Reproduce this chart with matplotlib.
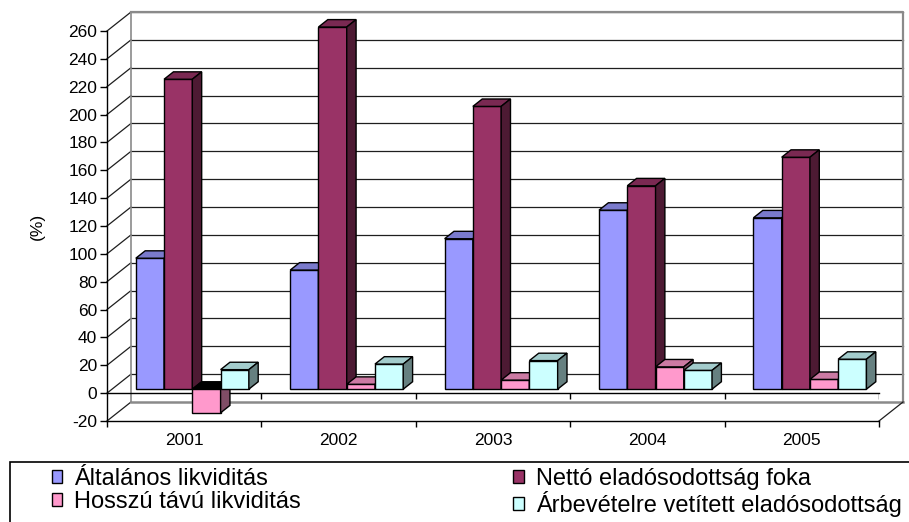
import numpy as np
import matplotlib
matplotlib.use('Agg')
import matplotlib.pyplot as plt
from matplotlib.patches import Polygon, Rectangle, Patch
from matplotlib.colors import to_rgb

plt.rcParams['font.family'] = ['Liberation Sans', 'DejaVu Sans']
plt.rcParams['axes.unicode_minus'] = False

# --- data ---
years = ['2001', '2002', '2003', '2004', '2005']
series_names = ['Általános likviditás', 'Nettó eladósodottság foka',
                'Hosszú távú likviditás', 'Árbevételre vetített eladósodottság']
altalanos = [94, 85.5, 108, 128.5, 123]
netto = [222.5, 260, 203, 146, 166.5]
hosszu = [-17, 3.5, 6.5, 16, 7]
arbevetel = [14, 18, 20.5, 13.5, 21.5]
colors = ['#9999FF', '#993366', '#FF99CC', '#CCFFFF']
y_ticks = list(range(-20, 261, 20))

series = [altalanos, netto, hosszu, arbevetel]

# --- layout in pixels ---
W, H = 909, 522
X0, X1 = 107, 879          # front x-extent of plot
Y_BOT, Y_TOP = 421, 31     # pixel rows of -20 and 260
fig = plt.figure(figsize=(W / 100, H / 100), dpi=100)
ax = fig.add_axes([X0 / W, (H - Y_BOT) / H, (X1 - X0) / W, (Y_BOT - Y_TOP) / H])
ymin, ymax = y_ticks[0], y_ticks[-1]
ax.set_xlim(0, len(years))
ax.set_ylim(ymin, ymax)

px_x = (X1 - X0) / len(years)
px_y = (Y_BOT - Y_TOP) / (ymax - ymin)
DX = 24 / px_x             # full depth offset (oblique projection)
DY = 19 / px_y
F0, F1 = 0.21, 0.60        # bar front / back depth
BAR_W = 0.183
GROUP_OFF = 0.154
n = len(years)

def shade(c, f):
    r, g, b = to_rgb(c)
    return (r * f, g * f, b * f)

# walls & floor
grid_col = '#1e1e1e'
edge_gray = '#8a8a8a'
for y in y_ticks[1:]:
    ax.plot([DX, n + DX], [y + DY, y + DY], color=grid_col, lw=0.9, clip_on=False, zorder=1)
for y in y_ticks:
    ax.plot([0, DX], [y, y + DY], color=grid_col, lw=0.9, clip_on=False, zorder=1)
# back wall outline
ax.plot([DX, n + DX, n + DX], [ymax + DY, ymax + DY, ymin + DY], color=edge_gray, lw=1.6,
        clip_on=False, zorder=1)
ax.plot([DX, DX], [ymin + DY, ymax + DY], color=edge_gray, lw=1.2, clip_on=False, zorder=1)
ax.plot([DX, n + DX], [ymin + DY, ymin + DY], color=edge_gray, lw=1.8, clip_on=False, zorder=1)
ax.plot([n, n + DX], [ymin, ymin + DY], color=grid_col, lw=0.9, clip_on=False, zorder=1)

# zero line at the front with its ticks
tick_units = 6 / px_y
ax.plot([0, n], [0, 0], color='black', lw=1, clip_on=False, zorder=2)
ax.vlines(range(1, n + 1), -tick_units, 0, color='black', lw=1, zorder=2)

# bars
y0 = F0 * DY
ddx = (F1 - F0) * DX
ddy = (F1 - F0) * DY
for i in range(n):
    for k, (vals, col) in enumerate(zip(series, colors)):
        v = vals[i]
        xl = i + GROUP_OFF + k * BAR_W + F0 * DX
        z = 3 + k * 0.01 + i * 0.1
        ax.bar(xl, v, BAR_W, bottom=y0, align='edge', color=col,
               edgecolor='black', lw=1, zorder=z, clip_on=False)
        top = y0 + max(v, 0)
        bot = y0 + min(v, 0)
        top_col = shade(col, 0.8) if v >= 0 else 'black'
        ax.add_patch(Polygon([(xl, top), (xl + BAR_W, top), (xl + BAR_W + ddx, top + ddy),
                              (xl + ddx, top + ddy)], closed=True, facecolor=top_col,
                             edgecolor='black', lw=1, clip_on=False, zorder=z))
        ax.add_patch(Polygon([(xl + BAR_W, bot), (xl + BAR_W, top), (xl + BAR_W + ddx, top + ddy),
                              (xl + BAR_W + ddx, bot + ddy)], closed=True,
                             facecolor=shade(col, 0.5), edgecolor='black', lw=1, clip_on=False,
                             zorder=z))

# axes styling
for s in ['top', 'right']:
    ax.spines[s].set_visible(False)
ax.spines['left'].set_linewidth(1)
ax.spines['bottom'].set_linewidth(1)
ax.set_yticks(y_ticks)
ax.tick_params(axis='y', direction='out', length=5, width=1, pad=2, labelsize=12.5)
ax.set_xticks(range(n + 1))
ax.set_xticklabels([])
ax.tick_params(axis='x', which='major', direction='out', length=4.3, width=1)
ax.set_xticks(np.arange(n) + 0.5, minor=True)
ax.set_xticklabels(years, minor=True)
ax.tick_params(axis='x', which='minor', length=0, pad=8.5, labelsize=12.5)
ax.set_ylabel('(%)', fontsize=12.5)
ax.yaxis.set_label_coords((45 - X0) / (X1 - X0), 0.5)
ax.patch.set_visible(False)

# legend with frame running off the figure
fig.patches.append(Rectangle((10 / W, -0.2), 1.2, (H - 462) / H + 0.2, transform=fig.transFigure,
                             fill=False, edgecolor='black', lw=1.2))
handles = [Patch(facecolor=c, edgecolor='black', lw=1) for c in colors]
order = [0, 2, 1, 3]
fs = 17
fig.legend([handles[j] for j in order], [series_names[j] for j in order], ncol=2,
           loc='upper left', bbox_to_anchor=(52 / W, 1 - 468 / H), frameon=False,
           fontsize=fs, handlelength=0.44, handleheight=0.44, handletextpad=0.5,
           labelspacing=0.05, columnspacing=9.0, borderpad=0, borderaxespad=0)

fig.savefig('out.png', dpi=100)
